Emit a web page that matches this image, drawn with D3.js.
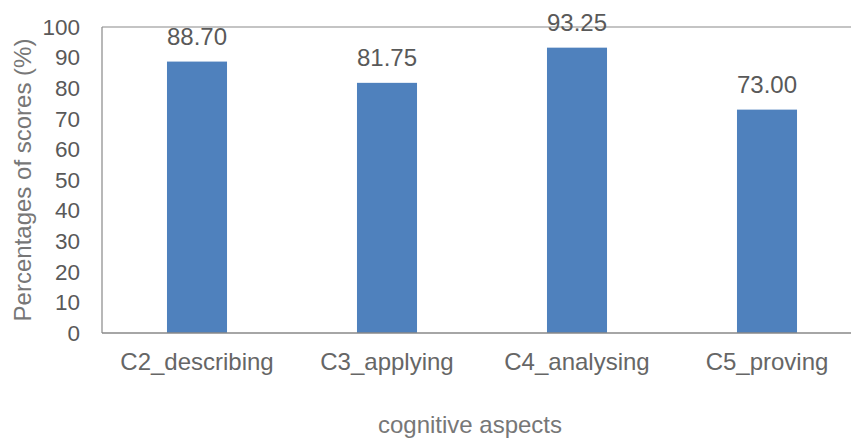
<!DOCTYPE html>
<html>
<head>
<meta charset="utf-8">
<script src="https://cdn.jsdelivr.net/npm/d3@7"></script>
<style>
  html, body { margin: 0; padding: 0; background: #fff; }
  svg { display: block; font-family: "Liberation Sans", Arial, sans-serif; }
</style>
</head>
<body>
<svg id="chart" width="851" height="439"></svg>
<script>
// Scores per cognitive aspect
const categories = ["C2_describing", "C3_applying", "C4_analysing", "C5_proving"];
const scores = [88.70, 81.75, 93.25, 73.00];
const yTicks = [0, 10, 20, 30, 40, 50, 60, 70, 80, 90, 100];
const xTitle = "cognitive aspects";
const yTitle = "Percentages of scores (%)";

const svg = d3.select("#chart");
const plot = { left: 102, right: 862, top: 27, bottom: 333 };

const x = d3.scaleBand().domain(categories).range([plot.left, plot.right]).padding(0);
const y = d3.scaleLinear().domain([0, 100]).range([plot.bottom, plot.top]);
const barW = x.bandwidth() * 0.316;

const frameColor = "#898989";

// frame: left edge and top edge
svg.append("line")
  .attr("x1", plot.left).attr("x2", plot.left)
  .attr("y1", y(100)).attr("y2", y(0))
  .attr("stroke", frameColor).attr("stroke-width", 1.2);
svg.append("line")
  .attr("x1", plot.left).attr("x2", plot.right)
  .attr("y1", y(100)).attr("y2", y(100))
  .attr("stroke", frameColor).attr("stroke-width", 1.2);

// bars
svg.append("g").selectAll("rect")
  .data(categories)
  .join("rect")
  .attr("x", (d) => x(d) + (x.bandwidth() - barW) / 2)
  .attr("width", barW)
  .attr("y", (d, i) => y(scores[i]))
  .attr("height", (d, i) => y(0) - y(scores[i]))
  .attr("fill", "#4f81bd");

// bottom axis
const xAxis = svg.append("g")
  .attr("transform", `translate(0,${plot.bottom})`)
  .call(d3.axisBottom(x).tickSize(0).tickPadding(20));
xAxis.select(".domain").attr("stroke", frameColor).attr("stroke-width", 1.5)
  .attr("d", `M${plot.left},0H${plot.right}`);
xAxis.selectAll("text")
  .attr("font-size", 24).attr("fill", "#666").attr("font-family", "Liberation Sans, Arial, sans-serif");

// left axis labels
const yAxis = svg.append("g")
  .attr("transform", `translate(${plot.left},0)`)
  .call(d3.axisLeft(y).tickValues(yTicks).tickSize(0).tickPadding(22));
yAxis.select(".domain").remove();
yAxis.selectAll("text")
  .attr("font-size", 22.5).attr("fill", "#595959").attr("font-family", "Liberation Sans, Arial, sans-serif");

// value labels
svg.append("g").selectAll("text")
  .data(categories)
  .join("text")
  .attr("x", (d) => x(d) + x.bandwidth() / 2)
  .attr("y", (d, i) => y(scores[i]) - 17)
  .attr("text-anchor", "middle")
  .attr("font-size", 24)
  .attr("fill", "#595959")
  .text((d, i) => scores[i].toFixed(2));

// axis titles
svg.append("text")
  .attr("x", 470).attr("y", 433)
  .attr("text-anchor", "middle")
  .attr("font-size", 24).attr("fill", "#777")
  .text(xTitle);
svg.append("text")
  .attr("transform", `translate(31,${(plot.top + plot.bottom) / 2}) rotate(-90)`)
  .attr("text-anchor", "middle")
  .attr("font-size", 24).attr("fill", "#777")
  .text(yTitle);
</script>
</body>
</html>
